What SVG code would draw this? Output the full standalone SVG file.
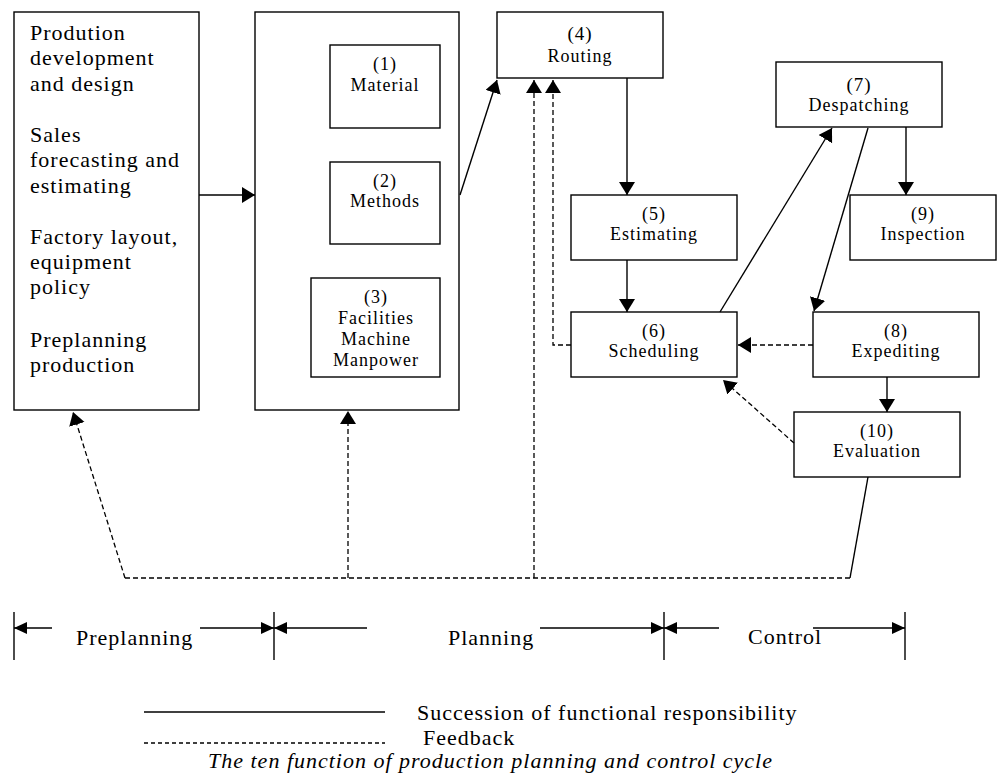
<svg xmlns="http://www.w3.org/2000/svg" width="997" height="776" viewBox="0 0 997 776">
  <style>
    .box { fill: #fff; stroke: #000; stroke-width: 1.4; }
    .t { font-family: "Liberation Serif", "Times New Roman", serif; fill: #000; letter-spacing: 1px; }
    .big { font-size: 22px; }
    .lbl { font-size: 18px; text-anchor: middle; }
    .num { font-size: 19px; text-anchor: middle; }
    .ln { fill: none; stroke: #000; stroke-width: 1.4; }
    .dash { fill: none; stroke: #000; stroke-width: 1.3; stroke-dasharray: 5 3; }
    .tick { stroke: #000; stroke-width: 1.4; }
  </style>
  <defs>
    <marker id="ah" markerUnits="userSpaceOnUse" markerWidth="15" markerHeight="17" refX="13" refY="8" orient="auto">
      <path d="M0,0 L13,8 L0,16 Z" fill="#000"/>
    </marker>
    <marker id="ph" markerUnits="userSpaceOnUse" markerWidth="14" markerHeight="13" refX="13" refY="6" orient="auto">
      <path d="M0,0 L13,6 L0,12 Z" fill="#000"/>
    </marker>
  </defs>

  <!-- Preplanning inputs -->
  <g id="preplanning-box">
    <rect class="box" x="14" y="12" width="185" height="398"/>
    <text class="t big" x="30" y="40">Prodution</text>
    <text class="t big" x="30" y="65">development</text>
    <text class="t big" x="30" y="91">and design</text>
    <text class="t big" x="30" y="142">Sales</text>
    <text class="t big" x="30" y="167">forecasting and</text>
    <text class="t big" x="30" y="193">estimating</text>
    <text class="t big" x="30" y="244">Factory layout,</text>
    <text class="t big" x="30" y="269">equipment</text>
    <text class="t big" x="30" y="294">policy</text>
    <text class="t big" x="30" y="347">Preplanning</text>
    <text class="t big" x="30" y="372">production</text>
  </g>

  <!-- Planning resources container -->
  <g id="resources-box">
    <rect class="box" x="255" y="12" width="204" height="398"/>
  </g>
  <g id="n1-material">
    <rect class="box" x="330" y="45" width="110" height="83"/>
    <text class="t lbl" x="385" y="70">(1)</text>
    <text class="t lbl" x="385" y="91">Material</text>
  </g>
  <g id="n2-methods">
    <rect class="box" x="330" y="162" width="110" height="82"/>
    <text class="t lbl" x="385" y="187">(2)</text>
    <text class="t lbl" x="385" y="207">Methods</text>
  </g>
  <g id="n3-facilities">
    <rect class="box" x="311" y="278" width="129" height="99"/>
    <text class="t lbl" x="376" y="303">(3)</text>
    <text class="t lbl" x="376" y="324">Facilities</text>
    <text class="t lbl" x="376" y="345">Machine</text>
    <text class="t lbl" x="376" y="366">Manpower</text>
  </g>

  <g id="n4-routing">
    <rect class="box" x="497" y="12" width="166" height="66"/>
    <text class="t num" x="580" y="40">(4)</text>
    <text class="t lbl" x="580" y="62">Routing</text>
  </g>
  <g id="n5-estimating">
    <rect class="box" x="571" y="195" width="166" height="65"/>
    <text class="t lbl" x="654" y="220">(5)</text>
    <text class="t lbl" x="654" y="240">Estimating</text>
  </g>
  <g id="n6-scheduling">
    <rect class="box" x="571" y="312" width="166" height="65"/>
    <text class="t lbl" x="654" y="337">(6)</text>
    <text class="t lbl" x="654" y="357">Scheduling</text>
  </g>
  <g id="n7-despatching">
    <rect class="box" x="776" y="62" width="166" height="65"/>
    <text class="t num" x="859" y="91">(7)</text>
    <text class="t lbl" x="859" y="111">Despatching</text>
  </g>
  <g id="n8-expediting">
    <rect class="box" x="813" y="312" width="166" height="65"/>
    <text class="t lbl" x="896" y="337">(8)</text>
    <text class="t lbl" x="896" y="357">Expediting</text>
  </g>
  <g id="n9-inspection">
    <rect class="box" x="850" y="195" width="146" height="65"/>
    <text class="t lbl" x="923" y="220">(9)</text>
    <text class="t lbl" x="923" y="240">Inspection</text>
  </g>
  <g id="n10-evaluation">
    <rect class="box" x="794" y="412" width="166" height="65"/>
    <text class="t lbl" x="877" y="437">(10)</text>
    <text class="t lbl" x="877" y="457">Evaluation</text>
  </g>

  <!-- Connectors -->
  <g id="connectors">
    <!-- succession of functional responsibility -->
    <line class="ln" x1="199" y1="195" x2="255" y2="195" marker-end="url(#ah)"/>
    <line class="ln" x1="460" y1="195" x2="497" y2="80" marker-end="url(#ah)"/>
    <line class="ln" x1="627" y1="78" x2="627" y2="195" marker-end="url(#ah)"/>
    <line class="ln" x1="627" y1="260" x2="627" y2="312" marker-end="url(#ah)"/>
    <line class="ln" x1="720" y1="312" x2="832" y2="128" marker-end="url(#ah)"/>
    <line class="ln" x1="868" y1="128" x2="814" y2="311" marker-end="url(#ah)"/>
    <line class="ln" x1="906" y1="127" x2="906" y2="195" marker-end="url(#ah)"/>
    <line class="ln" x1="887" y1="377" x2="887" y2="412" marker-end="url(#ah)"/>
    <line class="ln" x1="868" y1="477" x2="850" y2="578"/>

    <!-- feedback -->
    <line class="dash" x1="813" y1="345" x2="738" y2="345" marker-end="url(#ah)"/>
    <line class="dash" x1="794" y1="443" x2="723" y2="380" marker-end="url(#ah)"/>
    <polyline class="dash" points="571,345 553,345 553,80" marker-end="url(#ah)"/>
    <line class="dash" x1="534" y1="578" x2="534" y2="80" marker-end="url(#ah)"/>
    <line class="dash" x1="850" y1="578" x2="125" y2="578"/>
    <line class="dash" x1="125" y1="578" x2="73" y2="412" marker-end="url(#ah)"/>
    <line class="dash" x1="348" y1="578" x2="348" y2="411" marker-end="url(#ah)"/>
  </g>

  <!-- Phase scale -->
  <g id="phases">
    <line class="tick" x1="14" y1="612" x2="14" y2="660"/>
    <line class="tick" x1="274" y1="612" x2="274" y2="660"/>
    <line class="tick" x1="664" y1="612" x2="664" y2="660"/>
    <line class="tick" x1="905" y1="612" x2="905" y2="660"/>
    <line class="ln" x1="52" y1="628" x2="14" y2="628" marker-end="url(#ph)"/>
    <line class="ln" x1="200" y1="628" x2="274" y2="628" marker-end="url(#ph)"/>
    <line class="ln" x1="367" y1="628" x2="274" y2="628" marker-end="url(#ph)"/>
    <line class="ln" x1="540" y1="628" x2="664" y2="628" marker-end="url(#ph)"/>
    <line class="ln" x1="719" y1="628" x2="664" y2="628" marker-end="url(#ph)"/>
    <line class="ln" x1="813" y1="628" x2="905" y2="628" marker-end="url(#ph)"/>
    <text class="t big" x="76" y="645">Preplanning</text>
    <text class="t big" x="448" y="645">Planning</text>
    <text class="t big" x="748" y="644">Control</text>
  </g>

  <!-- Legend and caption -->
  <g id="legend">
    <line class="ln" x1="144" y1="712" x2="385" y2="712"/>
    <text class="t big" x="417" y="720">Succession of functional responsibility</text>
    <line x1="144" y1="743" x2="385" y2="743" stroke="#000" stroke-width="1.3" stroke-dasharray="4 3"/>
    <text class="t big" x="423" y="745">Feedback</text>
    <text class="t big" x="208" y="768" font-style="italic">The ten function of production planning and control cycle</text>
  </g>
</svg>
